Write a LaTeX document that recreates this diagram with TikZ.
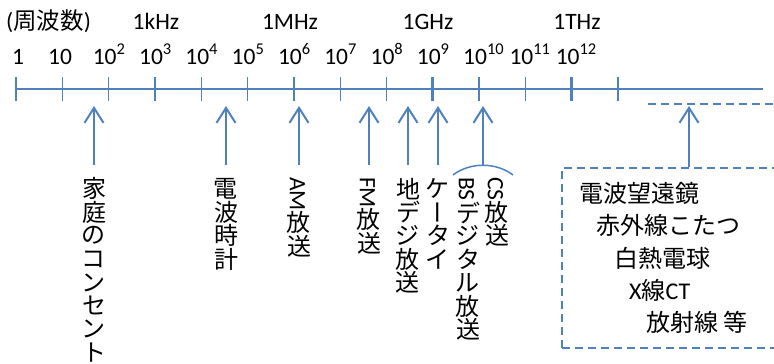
\documentclass[tikz,border=0pt]{standalone}
\usepackage{fontspec}
\setmainfont{Carlito}
\newfontfamily\jp{Noto Sans CJK JP}
\usetikzlibrary{arrows.meta}
\definecolor{axisblue}{RGB}{79,129,189}
% one upright CJK character inside a rotated (vertical) label
\newcommand\cj[1]{\makebox[23.4pt]{\rotatebox[origin=c]{90}{\jp\fontsize{24}{24}\selectfont #1}}}
\newcommand\cjbar{\makebox[23.4pt]{\jp\fontsize{24}{24}\selectfont ー}}
\def\vjloop#1{\ifx\relax#1\else\cj{#1}\expandafter\vjloop\fi}
\newcommand\vj[1]{\vjloop#1\relax}
\begin{document}
\begin{tikzpicture}[x=1pt,y=-1pt,
	axis/.style={axisblue,line width=2pt},
	tick/.style={axisblue,line width=1.2pt},
	maintick/.style={axisblue,line width=2.6pt},
	ray/.style={axisblue,line width=2pt,-{Straight Barb[length=15pt,width=19pt]}},
	txt/.style={inner sep=0pt,font=\fontsize{23.5}{28}\selectfont},
	vlab/.style={rotate=-90,anchor=west,inner xsep=12pt,inner ysep=0pt,font=\fontsize{23.5}{28}\selectfont},
	item/.style={anchor=west,inner sep=0pt,font=\jp\fontsize{24}{30}\selectfont}]
	\useasboundingbox (0,0) rectangle (774,364);
	%
	\foreach \i in {0,...,13}
		\coordinate (t\i) at (16+46.3*\i,89);
	\coordinate (axend) at (763,89);
	\coordinate (hz) at (0,106);
	\draw[axis] (t0) -- (axend);
	\foreach \i in {1,2,4,5,7,8,10,11,13}
		\draw[tick] ([yshift=-12pt]t\i) -- ([yshift=12pt]t\i);
	\foreach \i in {0,3,6,9,12}
		\draw[maintick] ([yshift=-12pt]t\i) -- ([yshift=12pt]t\i);
	%
	\node[txt,anchor=base west] (fq)  at (6,29)   {({\jp 周波数})};
	\node[txt,anchor=base]      (khz) at (156,29) {1kHz};
	\node[txt,anchor=base]      (mhz) at (290,29) {1MHz};
	\node[txt,anchor=base]      (ghz) at (428,29) {1GHz};
	\node[txt,anchor=base]      (thz) at (577,29) {1THz};
	%
	\node[txt,anchor=base west] (n0) at (12,64) {1};
	\node[txt,anchor=base west] (n1) at (48,64) {10};
	\foreach \e in {2,...,12}
		\node[txt,anchor=base west] (n\e) at ({16+46.3*\e-16},64) {10\textsuperscript{\e}};
	%
	\node[vlab] (plug)  at (94,165)  {\vj{家庭のコンセント}};
	\node[vlab] (clock) at (226,165) {\vj{電波時計}};
	\node[vlab] (am)    at (299,165) {AM\vj{放送}};
	\node[vlab] (fm)    at (369,165) {FM\vj{放送}};
	\node[vlab] (tdigi) at (408,165) {\vj{地デジ放送}};
	\node[vlab] (phone) at (438,165) {\cj{ケ}\cjbar\vj{タイ}};
	\node[vlab] (bs)    at (468,165) {BS\vj{デジタル放送}};
	\node[vlab] (cs)    at (497,165) {CS\vj{放送}};
	%
	\draw[ray] (plug.west)  -- (plug.west |- hz);
	\draw[ray] (clock.west) -- (clock.west |- hz);
	\draw[ray] (am.west)    -- (am.west |- hz);
	\draw[ray] (fm.west)    -- (fm.west |- hz);
	\draw[ray] (tdigi.west) -- (tdigi.west |- hz);
	\draw[ray] (phone.west) -- (phone.west |- hz);
	\draw[axisblue,line width=1.5pt] (453,175) .. controls (470,162) and (496,162) .. (513,175);
	\coordinate (bscs) at (483,165.5);
	\draw[ray] (bscs) -- (bscs |- hz);
	%
	\node[draw=axisblue,line width=1.5pt,dash pattern=on 8pt off 5pt,anchor=north west,
		minimum width=240pt,minimum height=180pt,inner sep=0pt] (farbox) at (561,167) {};
	\coordinate (farL) at (648,104);
	\coordinate (farR) at (790,104);
	\draw[axisblue,line width=1.5pt,dash pattern=on 8pt off 5pt] (farL) -- (farR);
	\coordinate (farup) at (689,106);
	\draw[ray] (farbox.north -| farup) -- (farup);
	%
	\node[item] (radio)   at (579,193) {電波望遠鏡};
	\node[item] (kotatsu) at (596,225) {赤外線こたつ};
	\node[item] (bulb)    at (614,258) {白熱電球};
	\node[item] (xray)    at (629,290) {{\rmfamily X}線{\rmfamily CT}};
	\node[item] (rays)    at (646,322) {放射線 等};
\end{tikzpicture}
\end{document}
